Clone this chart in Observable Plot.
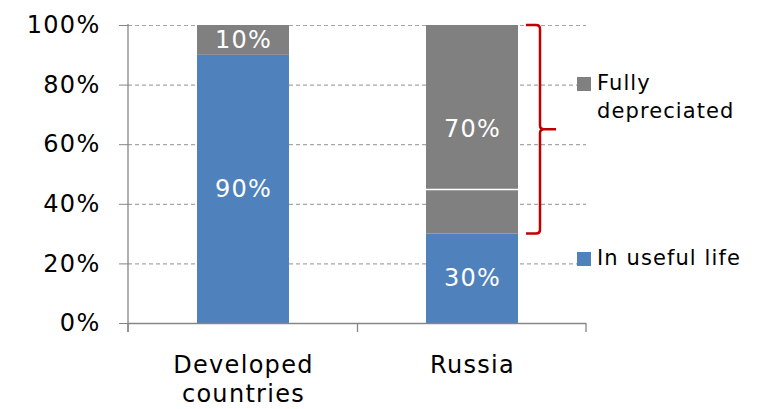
<!DOCTYPE html>
<html>
<head>
<meta charset="utf-8">
<script src="https://cdn.jsdelivr.net/npm/d3@7"></script>
<script src="https://cdn.jsdelivr.net/npm/@observablehq/plot@0.6"></script>
<style>
  html, body { margin: 0; padding: 0; background: #fff; }
  #chart { position: relative; width: 763px; height: 409px; font-family: "DejaVu Sans", Verdana, sans-serif; }
  #chart svg text { letter-spacing: 1.3px; }
  .legend-item { position: absolute; left: 577px; font-size: 21px; line-height: 28px; letter-spacing: 1.1px; color: #000; }
  .legend-item .swatch { position: absolute; left: 0; width: 14px; height: 14px; }
  .legend-item .label { position: absolute; left: 20px; white-space: nowrap; }
</style>
</head>
<body>
<div id="chart"></div>
<script>
// Share of fixed assets by depreciation status
const categories = ["Developed countries", "Russia"];
const seriesNames = ["In useful life", "Fully depreciated"];
const inUsefulLife = [90, 30];
const fullyDepreciated = [10, 70];
const yTicks = [0, 20, 40, 60, 80, 100];
// white divider drawn inside the fully depreciated segment
const dividerCategories = ["Russia"];
const dividerValues = [45];
// category whose fully depreciated share is bracketed
const bracedCategory = "Russia";

const seriesColors = ["#4F81BD", "#808080"];
const axisColor = "#868686";

const rows = categories.flatMap((c, i) => [
  {category: c, series: seriesNames[0], value: inUsefulLife[i]},
  {category: c, series: seriesNames[1], value: fullyDepreciated[i]}
]);
const dividers = dividerCategories.map((c, i) => ({category: c, value: dividerValues[i]}));

// Axis lines, category boundary ticks and the brace over the depreciated share
function frameAndBrace(index, scales, values, dims) {
  const {x, y} = scales;
  const {width, marginLeft, marginRight} = dims;
  const step = x(categories[1]) - x(categories[0]);
  const bw = typeof x.bandwidth === "function" ? x.bandwidth() : (x.bandwidth != null ? x.bandwidth : step * 0.4);
  const g = d3.create("svg:g");
  const left = marginLeft, right = width - marginRight, y0 = y(0);

  g.append("line")
    .attr("x1", left).attr("x2", left)
    .attr("y1", y(100) - 1).attr("y2", y0 + 9)
    .attr("stroke", axisColor).attr("stroke-width", 1.3);

  const bounds = [left, (x(categories[0]) + bw + x(categories[1])) / 2, right];
  for (const b of bounds) {
    g.append("line")
      .attr("x1", b).attr("x2", b)
      .attr("y1", y0).attr("y2", y0 + 9)
      .attr("stroke", axisColor).attr("stroke-width", 1.3);
  }

  const i = categories.indexOf(bracedCategory);
  const barRight = x(bracedCategory) + bw;
  const x0 = barRight + 8, x1 = barRight + 22, x2 = barRight + 38;
  const yTop = y(inUsefulLife[i] + fullyDepreciated[i]);
  const yBot = y(inUsefulLife[i]);
  const yMid = (yTop + yBot) / 2;
  const r = 4;
  const d = [
    `M${x0},${yTop}`, `L${x1 - r},${yTop}`, `Q${x1},${yTop} ${x1},${yTop + r}`,
    `L${x1},${yMid - r}`, `Q${x1},${yMid} ${x1 + r},${yMid}`, `L${x2},${yMid}`,
    `M${x1 + r},${yMid}`, `Q${x1},${yMid} ${x1},${yMid + r}`,
    `L${x1},${yBot - r}`, `Q${x1},${yBot} ${x1 - r},${yBot}`, `L${x0},${yBot}`
  ].join(" ");
  g.append("path").attr("d", d)
    .attr("fill", "none").attr("stroke", "#C00000").attr("stroke-width", 2.5);
  return g.node();
}

const chart = Plot.plot({
  width: 763,
  height: 409,
  marginLeft: 128,
  marginRight: 177,
  marginTop: 25,
  marginBottom: 86,
  style: {fontFamily: "'DejaVu Sans', Verdana, sans-serif", fontSize: "24px", color: "#000", background: "transparent"},
  x: {domain: categories, paddingInner: 0.6, paddingOuter: 0.3, label: null},
  y: {domain: [0, 100], label: null},
  color: {domain: seriesNames, range: seriesColors},
  marks: [
    Plot.ruleY(yTicks.filter(t => t > 0), {stroke: "#A6A6A6", strokeWidth: 1.2, strokeDasharray: "4,3"}),
    Plot.barY(rows, {x: "category", y: "value", fill: "series"}),
    Plot.tickY(dividers, {x: "category", y: "value", stroke: "white", strokeWidth: 1.5}),
    Plot.text(rows, Plot.stackY({
      x: "category", y: "value", z: "series",
      text: d => d.value + "%", fill: "white", fontSize: 24
    })),
    Plot.ruleY([0], {stroke: axisColor, strokeWidth: 1.3}),
    frameAndBrace,
    Plot.axisY({
      ticks: yTicks, tickFormat: d => d + "%", tickSize: 9, tickPadding: 19,
      stroke: axisColor, fontSize: 24, label: null
    }),
    Plot.axisX({
      tickSize: 0, tickPadding: 29, fontSize: 24, lineHeight: 1.2, label: null,
      tickFormat: d => d.replace(" ", "\n")
    })
  ]
});

const container = document.getElementById("chart");
container.appendChild(chart);

// Legend on the right, fully depreciated listed above in useful life
const legendTops = {"Fully depreciated": 69, "In useful life": 244};
const legendLines = {"Fully depreciated": "Fully<br>depreciated", "In useful life": "In useful life"};
[...seriesNames].reverse().forEach(name => {
  const item = document.createElement("div");
  item.className = "legend-item";
  item.style.top = legendTops[name] + "px";
  const sw = document.createElement("div");
  sw.className = "swatch";
  sw.style.background = seriesColors[seriesNames.indexOf(name)];
  sw.style.top = "8px";
  const lb = document.createElement("div");
  lb.className = "label";
  lb.innerHTML = legendLines[name];
  item.appendChild(sw);
  item.appendChild(lb);
  container.appendChild(item);
});
</script>
</body>
</html>
